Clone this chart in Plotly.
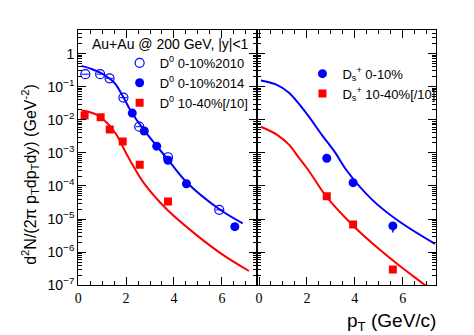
import plotly.graph_objects as go

# D0 data, left panel
d0_2010_pt = [0.30, 0.92, 1.31, 1.89, 2.55, 3.75, 5.89]
d0_2010_y = [0.24, 0.24, 0.18, 0.047, 6.2e-3, 7.4e-4, 1.9e-5]
d0_2014_pt = [2.26, 2.76, 3.28, 3.75, 4.52, 6.54]
d0_2014_y = [0.016, 4.6e-3, 1.6e-3, 6.0e-4, 1.17e-4, 5.9e-6]
d0_semi_pt = [0.27, 0.94, 1.32, 1.86, 2.57, 3.75]
d0_semi_y = [0.0135, 0.012, 5.1e-3, 2.2e-3, 4.4e-4, 3.4e-5]

# Ds data, right panel
ds_cent_pt = [2.83, 3.93, 5.59]
ds_cent_y = [6.9e-4, 1.26e-4, 6.2e-6]
ds_cent_err_lo = [0, 0, 2.3e-6]
ds_cent_err_hi = [0, 0, 1.0e-6]
ds_semi_pt = [2.83, 3.93, 5.59]
ds_semi_y = [4.9e-5, 6.8e-6, 3.0e-7]

# model curves (log10 of yield)
d0_cent_curve_pt = [0.14, 0.55, 0.96, 1.51, 1.86, 2.21, 2.76, 3.79, 4.55, 5.93, 6.87]
d0_cent_curve_log = [-0.37, -0.46, -0.59, -0.88, -1.28, -1.75, -2.32, -3.24, -3.90, -4.72, -5.13]
d0_semi_curve_pt = [0.14, 0.5, 0.83, 1.24, 1.6, 2.07, 2.76, 3.72, 4.97, 6.06, 7.13]
d0_semi_curve_log = [-1.72, -1.77, -1.87, -2.12, -2.45, -3.1, -3.93, -4.72, -5.5, -6.09, -6.57]
ds_cent_curve_pt = [0.08, 0.7, 1.25, 1.94, 2.63, 3.19, 3.67, 4.73, 5.83, 7.35]
ds_cent_curve_log = [-0.81, -0.93, -1.18, -1.77, -2.46, -3.0, -3.54, -4.42, -5.06, -5.75]
ds_semi_curve_pt = [0.08, 0.77, 1.25, 1.67, 2.08, 2.8, 3.9, 5.0, 5.83, 6.94, 7.2]
ds_semi_curve_log = [-2.21, -2.46, -2.75, -3.15, -3.54, -4.31, -5.18, -5.9, -6.39, -7.0, -7.15]

y_tickvals = [1, 1e-1, 1e-2, 1e-3, 1e-4, 1e-5, 1e-6, 1e-7]
y_ticktext = ["1", "10<sup>\u22121</sup>", "10<sup>\u22122</sup>", "10<sup>\u22123</sup>",
              "10<sup>\u22124</sup>", "10<sup>\u22125</sup>", "10<sup>\u22126</sup>", "10<sup>\u22127</sup>"]

BLUE = "#0000ff"
RED = "#ff0000"
SANS = "Liberation Sans, Arial, sans-serif"
SERIF = "Liberation Serif, Times New Roman, serif"

fig = go.Figure()

# curves
fig.add_trace(go.Scatter(x=d0_cent_curve_pt, y=[10 ** v for v in d0_cent_curve_log], mode="lines",
                         line=dict(color=BLUE, width=2, shape="spline"), showlegend=False))
fig.add_trace(go.Scatter(x=d0_semi_curve_pt, y=[10 ** v for v in d0_semi_curve_log], mode="lines",
                         line=dict(color=RED, width=2, shape="spline"), showlegend=False))
fig.add_trace(go.Scatter(x=ds_cent_curve_pt, y=[10 ** v for v in ds_cent_curve_log], mode="lines",
                         line=dict(color=BLUE, width=2, shape="spline"), showlegend=False,
                         xaxis="x2", yaxis="y2"))
fig.add_trace(go.Scatter(x=ds_semi_curve_pt, y=[10 ** v for v in ds_semi_curve_log], mode="lines",
                         line=dict(color=RED, width=2, shape="spline"), showlegend=False,
                         xaxis="x2", yaxis="y2"))

# D0 points
fig.add_trace(go.Scatter(x=d0_2010_pt, y=d0_2010_y, mode="markers",
                         name="D<sup>0</sup> 0-10%2010",
                         marker=dict(symbol="circle-open", size=9, color=BLUE, line=dict(width=1.2)),
                         error_x=dict(type="constant", value=0.15, width=0, thickness=1, color=BLUE),
                         legend="legend"))
fig.add_trace(go.Scatter(x=d0_2014_pt, y=d0_2014_y, mode="markers",
                         name="D<sup>0</sup> 0-10%2014",
                         marker=dict(symbol="circle", size=9, color=BLUE),
                         legend="legend"))
fig.add_trace(go.Scatter(x=d0_semi_pt, y=d0_semi_y, mode="markers",
                         name="D<sup>0</sup> 10-40%[/10]",
                         marker=dict(symbol="square", size=8, color=RED),
                         legend="legend"))

# Ds points
fig.add_trace(go.Scatter(x=ds_cent_pt, y=ds_cent_y, mode="markers",
                         name="D<sub>s</sub><sup>+</sup> 0-10%",
                         marker=dict(symbol="circle", size=9, color=BLUE),
                         error_y=dict(type="data", symmetric=False, array=ds_cent_err_hi,
                                      arrayminus=ds_cent_err_lo, width=0, thickness=1.5, color=BLUE),
                         xaxis="x2", yaxis="y2", legend="legend2"))
fig.add_trace(go.Scatter(x=ds_semi_pt, y=ds_semi_y, mode="markers",
                         name="D<sub>s</sub><sup>+</sup> 10-40%[/10]",
                         marker=dict(symbol="square", size=8, color=RED),
                         xaxis="x2", yaxis="y2", legend="legend2"))

x_common = dict(showgrid=False, zeroline=False, showline=True, linecolor="black", linewidth=1,
                mirror="ticks", ticks="inside", ticklen=8, tickcolor="black",
                tickmode="linear", tick0=0, dtick=2,
                minor=dict(ticks="inside", ticklen=4, dtick=0.5, tickcolor="black", showgrid=False),
                tickfont=dict(family=SERIF, size=14, color="black"))
y_common = dict(type="log", range=[-7, 0.71], showgrid=False, zeroline=False, showline=True,
                linecolor="black", linewidth=1, mirror="ticks", ticks="inside", ticklen=8,
                tickcolor="black", tickmode="array", tickvals=y_tickvals,
                minor=dict(ticks="inside", ticklen=4, tickcolor="black", showgrid=False,
                           tickvals=[m * 10 ** e for e in range(-7, 1) for m in range(2, 10)]),
                tickfont=dict(family=SANS, size=14, color="black"))

fig.update_layout(
    width=474, height=335,
    margin=dict(l=0, r=0, t=0, b=0),
    paper_bgcolor="white", plot_bgcolor="white",
    font=dict(family=SANS, color="black"),
    xaxis=dict(domain=[0.1407, 0.5205], range=[0, 7.45], anchor="y", **x_common),
    xaxis2=dict(domain=[0.5205, 0.9015], range=[-0.1, 7.38], anchor="y2", **x_common),
    yaxis=dict(domain=[0.1522, 0.9322], anchor="x", ticktext=y_ticktext, **y_common),
    yaxis2=dict(domain=[0.1522, 0.9322], anchor="x2", showticklabels=False, **y_common),
    legend=dict(x=0.229, y=0.878, xanchor="left", yanchor="top", bgcolor="rgba(0,0,0,0)",
                font=dict(family=SANS, size=13), tracegroupgap=0, itemsizing="trace"),
    legend2=dict(x=0.618, y=0.845, xanchor="left", yanchor="top", bgcolor="rgba(0,0,0,0)",
                 font=dict(family=SANS, size=13), tracegroupgap=0, itemsizing="trace"),
    annotations=[
        dict(text="Au+Au @ 200 GeV, |y|<1", x=160 / 474, y=1 - 37 / 335, xref="paper", yref="paper",
             xanchor="center", yanchor="middle", showarrow=False, font=dict(family=SANS, size=14)),
        dict(text="d<sup>2</sup>N/(2\u03c0 p<sub>T</sub>dp<sub>T</sub>dy) (GeV<sup>-2</sup>)",
             x=18 / 474, y=1 - 170 / 335, xref="paper", yref="paper", textangle=-90,
             xanchor="center", yanchor="middle", showarrow=False, font=dict(family=SANS, size=16)),
        dict(text="p<sub>T</sub> (GeV/c)", x=430 / 474, y=1 - 322 / 335, xref="paper", yref="paper",
             xanchor="right", yanchor="middle", showarrow=False, font=dict(family=SANS, size=19)),
    ],
)

fig.write_html("out.html")
